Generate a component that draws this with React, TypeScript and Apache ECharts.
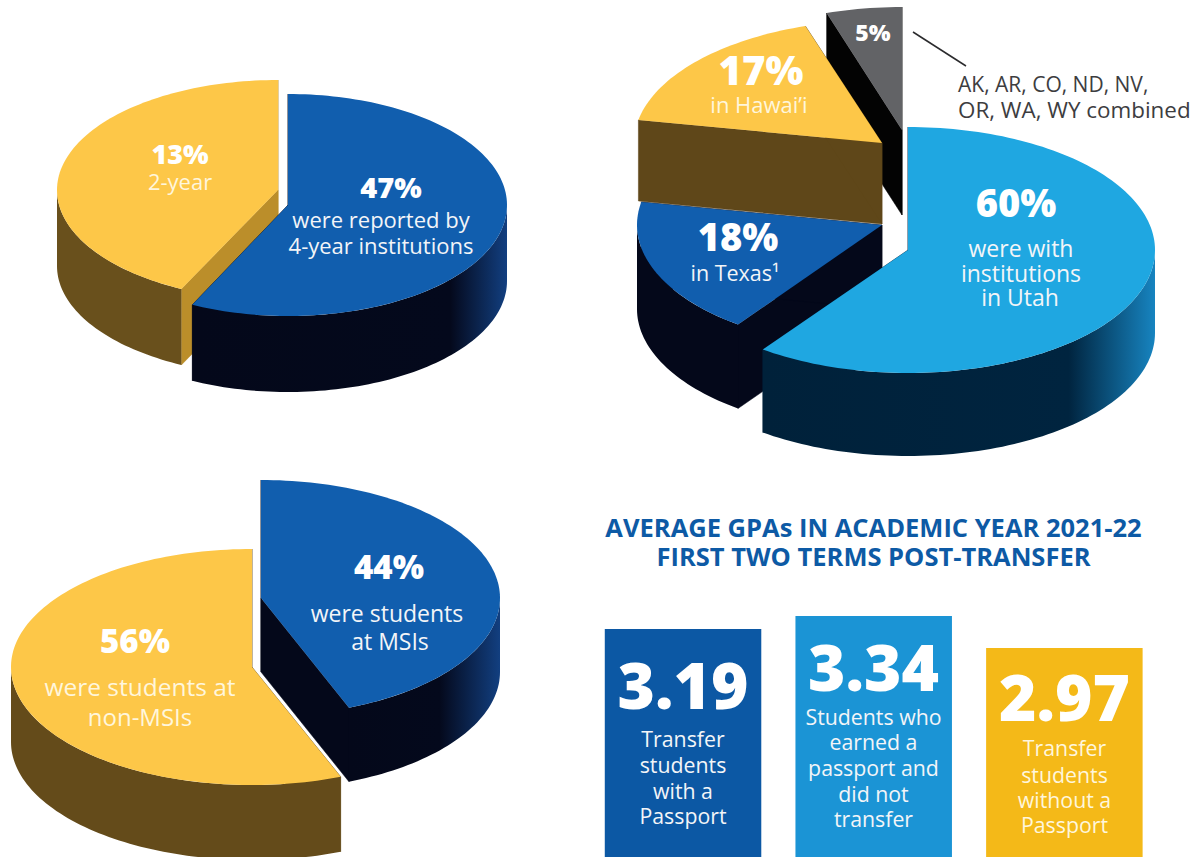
import React, { useEffect, useRef } from "react";
import * as echarts from "echarts";

// ---------- data ----------
// Slices run clockwise from 12 o'clock; shares are the sizes as drawn.
const sectorNames = ["4-year institutions", "2-year"];
const sectorShares = [57.2, 42.8];
const sectorLabels = ["47%", "13%"];

const stateNames = ["Utah", "Texas", "Hawai'i", "Other states"];
const stateShares = [60, 18, 17, 5];

const msiNames = ["MSIs", "non-MSIs"];
const msiShares = [44, 56];

const gpaNames = ["With Passport", "Passport, no transfer", "Without Passport"];
const gpaValues = [3.19, 3.34, 2.97];
const gpaCaptions = [
  ["Transfer", "students", "with a", "Passport"],
  ["Students who", "earned a", "passport and", "did not", "transfer"],
  ["Transfer", "students", "without a", "Passport"],
];
const titleLines = ["AVERAGE GPAs IN ACADEMIC YEAR 2021-22", "FIRST TWO TERMS POST-TRANSFER"];
const calloutLines = ["AK, AR, CO, ND, NV,", "OR, WA, WY combined"];

// ---------- styling ----------
const YELLOW = "#fdc748";
const BROWN = "#69501c";
const GOLD = "#bb8e2a";
const BLUE = "#115eae";
const SKY = "#1fa7e1";
const GREY = "#626366";
const INK = "#04081a";
const FONT = "'Open Sans', sans-serif";

const grad = (stops: [number, string][]) =>
  new echarts.graphic.LinearGradient(0, 0, 1, 0, stops.map(([offset, color]) => ({ offset, color })));

type Slice = {
  cx: number; cy: number; rx: number; ry: number; depth: number; rank: number;
  top: string; face: string; wall: () => any;
};

const sectorSlices: Slice[] = [
  { cx: 288, cy: 205, rx: 219, ry: 111, depth: 76, rank: 2, top: BLUE, face: INK,
    wall: () => grad([[0, INK], [0.82, "#04091c"], [1, "#123f80"]]) },
  { cx: 278, cy: 190, rx: 221, ry: 110, depth: 76, rank: 1, top: YELLOW, face: GOLD, wall: () => BROWN },
];
const stateSlices: Slice[] = [
  { cx: 908, cy: 250, rx: 247, ry: 123, depth: 83, rank: 4, top: SKY, face: "#00233d",
    wall: () => grad([[0, "#00213a"], [0.78, "#00243f"], [1, "#1784c0"]]) },
  { cx: 882, cy: 225, rx: 245, ry: 123, depth: 84, rank: 3, top: BLUE, face: INK, wall: () => INK },
  { cx: 882, cy: 143, rx: 248, ry: 123, depth: 81, rank: 2, top: YELLOW, face: "#5f4719", wall: () => BROWN },
  { cx: 902, cy: 130, rx: 244, ry: 123, depth: 85, rank: 1, top: GREY, face: "#030303", wall: () => "#030303" },
];
const msiSlices: Slice[] = [
  { cx: 261, cy: 598, rx: 239, ry: 118, depth: 74, rank: 1, top: BLUE, face: INK,
    wall: () => grad([[0, INK], [0.6, "#04091c"], [1, "#123f80"]]) },
  { cx: 252, cy: 667, rx: 241, ry: 118, depth: 75, rank: 2, top: YELLOW, face: BROWN, wall: () => "#644b1a" },
];

const pieSeries = (name: string, names: string[], shares: number[], slices: Slice[]) => {
  let running = 0;
  const data = shares.map((share, i) => {
    const item = { name: names[i], value: [share, running] };
    running += share;
    return item;
  });
  return {
    type: "custom",
    name,
    coordinateSystem: "none",
    silent: true,
    z: 2,
    data,
    renderItem: (params: any, api: any) => {
      const s = slices[params.dataIndex];
      const t0 = api.value(1) * 3.6;
      const t1 = t0 + api.value(0) * 3.6;
      const at = (deg: number, drop = 0): number[] => {
        const r = (deg * Math.PI) / 180;
        return [s.cx + s.rx * Math.sin(r), s.cy - s.ry * Math.cos(r) + drop];
      };
      const arc = (a: number, b: number, drop = 0) => {
        const out: number[][] = [];
        const n = Math.max(2, Math.ceil(Math.abs(b - a) / 1.5));
        for (let k = 0; k <= n; k++) out.push(at(a + ((b - a) * k) / n, drop));
        return out;
      };
      const apex = [s.cx, s.cy];
      const apexLow = [s.cx, s.cy + s.depth];
      const base = s.rank * 10;
      const children: any[] = [];
      [t0, t1].forEach((t, k) => {
        children.push({
          type: "polygon",
          z2: base + k,
          shape: { points: [apex, at(t), at(t, s.depth), apexLow] },
          style: { fill: s.face, stroke: s.face, lineWidth: 0.5 },
        });
      });
      const w0 = Math.max(t0, 90);
      const w1 = Math.min(t1, 270);
      if (w1 > w0) {
        children.push({
          type: "polygon",
          z2: base + 2,
          shape: { points: [...arc(w0, w1), ...arc(w1, w0, s.depth)] },
          style: { fill: s.wall() },
        });
      }
      children.push({
        type: "polygon",
        z2: base + 3,
        shape: { points: [apex, ...arc(t0, t1)] },
        style: { fill: s.top },
      });
      return { type: "group", children };
    },
  };
};

const label = (
  text: string, x: number, y: number, size: number, weight = 400,
  fill = "#ffffff", align = "center",
) => ({
  type: "text",
  z: 100,
  silent: true,
  style: {
    text, x, y, fill,
    fontFamily: FONT, fontSize: size, fontWeight: weight,
    textAlign: align, textVerticalAlign: "middle", verticalAlign: "middle",
  },
});

const SOFT = "#f3f5f8";
const CREAM = "#fff6dc";

const captionY = [
  [738, 764, 790, 815],
  [716, 741, 767, 793, 818],
  [747, 774, 799, 824],
];
const boxX = [683, 873.5, 1064.5];
const numberY = [684, 666, 696];
const captionFill = [SOFT, SOFT, CREAM];

const graphics: any[] = [
  label(sectorLabels[1], 180, 153, 27, 800),
  label("2-year", 180, 181, 22, 400, CREAM),
  label(sectorLabels[0], 391, 186, 29, 800),
  label("were reported by", 381, 219, 22, 400, SOFT),
  label("4-year institutions", 381, 245, 22, 400, SOFT),

  label(`${stateShares[3]}%`, 873, 32, 23, 800),
  label(`${stateShares[2]}%`, 761, 69, 40, 800),
  label("in Hawai\u2019i", 759, 104, 22, 400, CREAM),
  label(`${stateShares[0]}%`, 1016, 202, 38, 800),
  label("were with", 1021, 248, 23, 400, SOFT),
  label("institutions", 1021, 273, 23, 400, SOFT),
  label("in Utah", 1020, 297, 23, 400, SOFT),
  label(`${stateShares[1]}%`, 738, 236, 38, 800),
  label("in Texas\u00b9", 735, 272, 21.5, 400, SOFT),
  label(calloutLines[0], 958, 84, 21, 400, "#3d3d3f", "left"),
  label(calloutLines[1], 958, 109, 22.4, 400, "#3d3d3f", "left"),
  {
    type: "line", z: 100, silent: true,
    shape: { x1: 913, y1: 32, x2: 966, y2: 66 },
    style: { stroke: "#2b2b2d", lineWidth: 1.5 },
  },

  label(`${msiShares[0]}%`, 389, 566, 33, 800),
  label("were students", 387, 613, 23, 400, SOFT),
  label("at MSIs", 390, 641, 23, 400, SOFT),
  label(`${msiShares[1]}%`, 135, 640, 33, 800),
  label("were students at", 140, 686, 24.5, 400, CREAM),
  label("non-MSIs", 140, 716, 24, 400, CREAM),

  label(titleLines[0], 873.5, 527, 25.5, 700, "#0d5aa5"),
  label(titleLines[1], 873.5, 556, 25.5, 700, "#0d5aa5"),
  ...gpaValues.map((v, i) => label(v.toFixed(2), boxX[i], numberY[i], 64, 800)),
  ...gpaCaptions.flatMap((lines, i) =>
    lines.map((line, k) => label(line, boxX[i], captionY[i][k], 21.3, 400, captionFill[i])),
  ),
];

export default function App() {
  const ref = useRef<HTMLDivElement>(null);
  useEffect(() => {
    document.body.style.margin = "0";
    const chart = echarts.init(ref.current!, undefined, { renderer: "svg" });
    chart.setOption({
      animation: false,
      backgroundColor: "#ffffff",
      grid: { left: 587.7, width: 572, top: 600, height: 257 },
      xAxis: { type: "category", data: gpaNames, show: false },
      yAxis: { type: "value", min: 0.554, max: 3.525, show: false },
      series: [
        pieSeries("Sector", sectorNames, sectorShares, sectorSlices),
        pieSeries("State", stateNames, stateShares, stateSlices),
        pieSeries("MSI", msiNames, msiShares, msiSlices),
        {
          type: "bar",
          name: "GPA",
          barWidth: 156.5,
          silent: true,
          data: gpaValues.map((value, i) => ({
            value,
            itemStyle: { color: ["#0c58a4", "#1b94d5", "#f4b918"][i] },
          })),
        },
      ],
      graphic: { elements: graphics },
    });
    return () => chart.dispose();
  }, []);
  return <div ref={ref} style={{ width: 1197, height: 857 }} />;
}
